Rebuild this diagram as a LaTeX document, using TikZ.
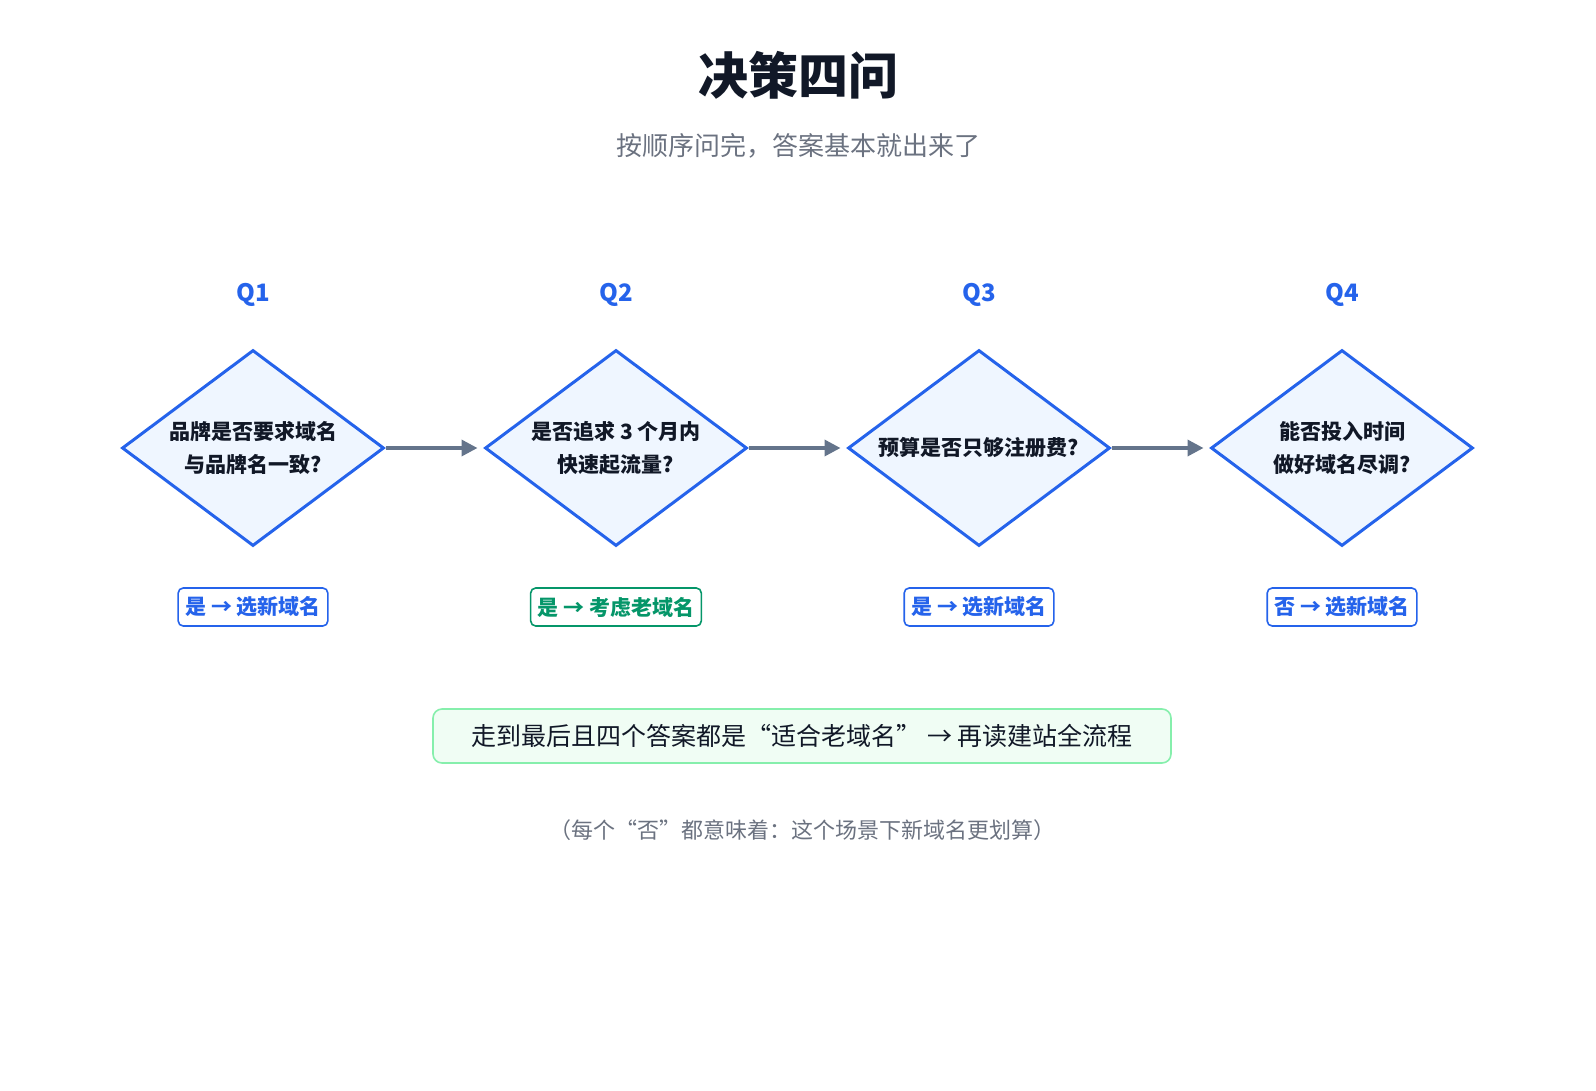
\documentclass[tikz,border=0pt]{standalone}
\usepackage{fontspec}
\setmainfont{Noto Sans CJK SC}
\usetikzlibrary{shapes.geometric,arrows.meta}
\definecolor{qblue}{HTML}{2563EB}
\definecolor{dfill}{HTML}{EFF6FF}
\definecolor{ink}{HTML}{111827}
\definecolor{sub}{HTML}{6B7280}
\definecolor{arr}{HTML}{64748B}
\definecolor{gtxt}{HTML}{059669}
\definecolor{gfill}{HTML}{F0FDF4}
\definecolor{gline}{HTML}{86EFAC}
\begin{document}
\begin{tikzpicture}[x=1pt,y=-1pt,
 dia/.style={diamond,draw=qblue,fill=dfill,line width=3pt,minimum width=262pt,minimum height=196pt,inner sep=0pt,aspect=1.34},
 dtxt/.style={align=center,text=ink,font=\fontsize{21}{33}\selectfont\bfseries},
 ql/.style={text=qblue,font=\fontsize{24}{28}\selectfont\bfseries},
 res/.style={draw=qblue,line width=1.6pt,rounded corners=5pt,fill=white,text=qblue,minimum height=38pt,inner xsep=7pt,font=\fontsize{21}{24}\selectfont\bfseries},
 con/.style={draw=arr,line width=3.5pt,-{Triangle[length=16pt,width=16pt]}}]
\useasboundingbox (0,0) rectangle (1596,1090);
\node[text=ink,font=\fontsize{50}{56}\selectfont\bfseries] (title) at (798,75) {决策四问};
\node[text=sub,font=\fontsize{26}{30}\selectfont] (sub) at (798,146) {按顺序问完，答案基本就出来了};
\foreach \i/\x in {1/253,2/616,3/979,4/1342}{
 \node[ql] (q\i) at (\x,295) {Q\i};
 \node[dia] (d\i) at (\x,448) {};
}
\node[dtxt] at (253,448) {品牌是否要求域名\\与品牌名一致?};
\node[dtxt] at (616,448) {是否追求 3 个月内\\快速起流量?};
\node[dtxt] at (979,448) {预算是否只够注册费?};
\node[dtxt] at (1342,448) {能否投入时间\\做好域名尽调?};
\draw[con] (d1.east) -- ++(92,0) coordinate (a1);
\draw[con] (d2.east) -- ++(92,0) coordinate (a2);
\draw[con] (d3.east) -- ++(92,0) coordinate (a3);
\node[res] (r1) at (253,607) {是 → 选新域名};
\node[res,draw=gtxt,text=gtxt] (r2) at (616,607) {是 → 考虑老域名};
\node[res] (r3) at (979,607) {是 → 选新域名};
\node[res] (r4) at (1342,607) {否 → 选新域名};
\node[draw=gline,fill=gfill,line width=1.6pt,rounded corners=9pt,minimum width=738pt,minimum height=54pt,text=ink,font=\fontsize{25}{30}\selectfont] (note) at (802,736) {走到最后且四个答案都是“适合老域名” → 再读建站全流程};
\node[text=sub,font=\fontsize{22}{26}\selectfont] (foot) at (802,830) {（每个“否”都意味着：这个场景下新域名更划算）};
\end{tikzpicture}
\end{document}
